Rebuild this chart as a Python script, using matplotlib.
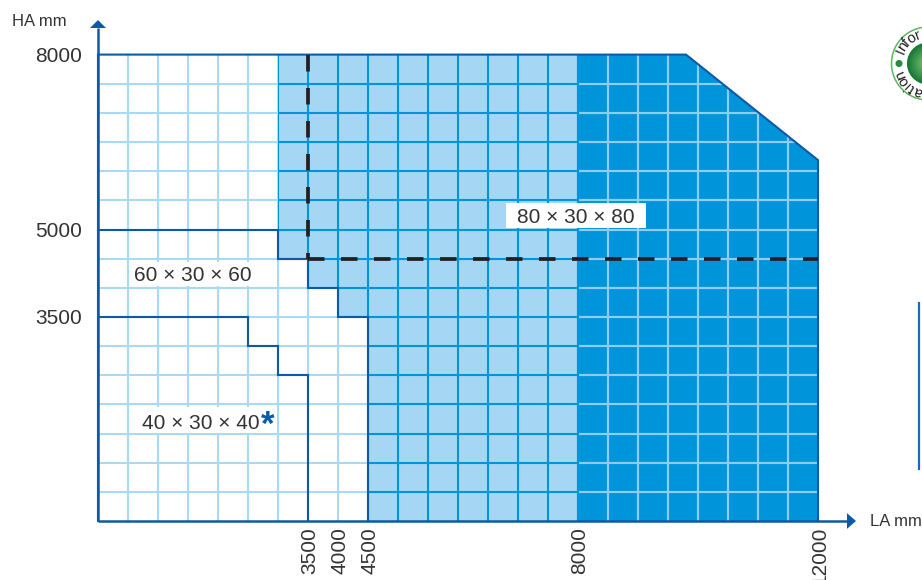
import matplotlib
matplotlib.use("Agg")
import matplotlib.pyplot as plt
from matplotlib.patches import Polygon, Rectangle
import numpy as np

plt.rcParams['font.family'] = ['Liberation Sans', 'DejaVu Sans']

# Data: zones in mm (LA, HA)
zone_80_light_x = [3000, 8000, 8000, 4500, 4500, 4000, 4000, 3500, 3500, 3000]
zone_80_light_y = [8000, 8000, 0, 0, 3500, 3500, 4000, 4000, 4500, 4500]
zone_80_dark_x = [8000, 9800, 12000, 12000, 8000]
zone_80_dark_y = [8000, 8000, 6190, 0, 0]

border_60_x = [0, 3000, 3000, 3500, 3500, 4000, 4000, 4500, 4500]
border_60_y = [5000, 5000, 4500, 4500, 4000, 4000, 3500, 3500, 0]
border_40_x = [0, 2500, 2500, 3000, 3000, 3500, 3500]
border_40_y = [3500, 3500, 3000, 3000, 2500, 2500, 0]
outline_x = [0, 0, 9800, 12000, 12000]
outline_y = [0, 8000, 8000, 6190, 0]

grid_x = np.arange(500, 12000, 500)
grid_y = np.arange(500, 8000, 500)
ha_ticks = [3500, 5000, 8000]
la_ticks = [3500, 4000, 4500, 8000, 12000]

labels = ['60 × 30 × 60', '80 × 30 × 80', '40 × 30 × 40']
label_x = [1583, 7967, 1717]
label_y = [4205, 5200, 1680]
box_x = [(530, 2980), (6800, 9133), (530, 2980)]
box_y = [(4030, 4450), (5026, 5455), (1510, 1955)]

badge_letters = ['I', 'n', 'f', 'o', 'r', 'a', 't', 'i', 'o', 'n']
badge_angles = [157, 146, 135, 123, 110, 250, 237, 226, 215, 203]

# Colors
DARK = '#0a5aa8'
MID = '#0095da'
LIGHT = '#a5d7f4'
GRID_W = '#a8daf5'
GRID_D = '#8fcdf0'
INK = '#333333'

# Scale: 0.06 px per mm on LA, 0.0583 px per mm on HA
fig = plt.figure(figsize=(9.22, 5.8), dpi=100)
ax = fig.add_axes([0, 0, 1, 1])
ax.set_xlim(-98 / 0.06, (922 - 98) / 0.06)
ax.set_ylim((521 - 580) / 0.0583, 521 / 0.0583)
ax.axis('off')

light_poly = Polygon(list(zip(zone_80_light_x, zone_80_light_y)), fc=LIGHT, ec='none', zorder=1)
dark_poly = Polygon(list(zip(zone_80_dark_x, zone_80_dark_y)), fc=MID, ec='none', zorder=1)
ax.add_patch(light_poly)
ax.add_patch(dark_poly)

# Base grid in the white part
for gx in grid_x:
    ax.plot([gx, gx], [0, 8000], color=GRID_W, lw=1.5, zorder=2, solid_capstyle='butt')
for gy in grid_y:
    ax.plot([0, 12000], [gy, gy], color=GRID_W, lw=1.5, zorder=2, solid_capstyle='butt')

# Grid over the light zone is brighter, over the dark zone it is pale
def clipped_grid(poly, color, z):
    for gx in grid_x:
        line, = ax.plot([gx, gx], [0, 8000], color=color, lw=1.5, zorder=z, solid_capstyle='butt')
        line.set_clip_path(poly)
    for gy in grid_y:
        line, = ax.plot([0, 12000], [gy, gy], color=color, lw=1.5, zorder=z, solid_capstyle='butt')
        line.set_clip_path(poly)

# white mask so the base grid does not show beyond the chamfer
ax.add_patch(Polygon([(9800, 8000), (12000, 8000), (12000, 6190)], fc='white', ec='none', zorder=2.5))
clipped_grid(light_poly, MID, 3)
clipped_grid(dark_poly, GRID_D, 3)
# cover the grid seam between the two blue zones
ax.plot([8000, 8000], [0, 8000], color=MID, lw=1.5, zorder=3.2, solid_capstyle='butt')

# Zone borders
ax.plot(border_60_x, border_60_y, color=DARK, lw=1.5, zorder=4, solid_joinstyle='miter')
ax.plot(border_40_x, border_40_y, color=DARK, lw=1.5, zorder=4, solid_joinstyle='miter')
ax.plot(outline_x, outline_y, color=DARK, lw=1.5, zorder=4, solid_joinstyle='miter')

# Dashed limit
ax.plot([3500, 3500], [8000, 4500], color='#231f20', lw=2.7, zorder=5,
        linestyle=(0, (4.4, 4.4)), dash_capstyle='butt')
ax.plot([3500, 12000], [4500, 4500], color='#231f20', lw=2.7, zorder=5,
        linestyle=(0, (4.4, 4.4)), dash_capstyle='butt')

# Axes arrows
ax.plot([0, 12483], [0, 0], color=DARK, lw=1.8, zorder=4, solid_capstyle='butt')
ax.plot([0, 0], [0, 8456], color=DARK, lw=1.8, zorder=4, solid_capstyle='butt')
ax.add_patch(Polygon([(12483, 135), (12633, 0), (12483, -135)], fc=DARK, ec='none', zorder=4))
ax.add_patch(Polygon([(-133, 8456), (133, 8456), (0, 8593)], fc=DARK, ec='none', zorder=4))

# Size labels
for (bx, by) in zip(box_x, box_y):
    ax.add_patch(Rectangle((bx[0], by[0]), bx[1] - bx[0], by[1] - by[0], fc='white', ec='none', zorder=4.5))
for t, lx, ly in zip(labels, label_x, label_y):
    ax.text(lx, ly, t, fontsize=15, color=INK, ha='center', va='center', zorder=6)
ax.text(2720, 1640, '*', fontsize=25, color=DARK, weight='bold', ha='left', va='center', zorder=6)

# Tick labels
for v in ha_ticks:
    ax.text(-270, v - 35, str(v), fontsize=15, color=INK, ha='right', va='center', zorder=6)
for v in la_ticks:
    ax.text(v + 30, -105, str(v), fontsize=15, color=INK, ha='center', va='top', rotation=90, zorder=6)
ax.text(-1433, 8576, 'HA mm', fontsize=12, color=INK, ha='left', va='center')
ax.text(12867, 0, 'LA mm', fontsize=12, color=INK, ha='left', va='center')

# Vertical rule cut by the right edge
ax.plot([13683, 13683], [(521 - 303) / 0.0583, (521 - 469) / 0.0583], color='#1a6bb5', lw=1.6)

# Round badge, cut by the right edge (px centre 928, 63.5)
cx = (928 - 98) / 0.06
cy = (521 - 63.5) / 0.0583
px_x = 1 / 0.06
px_y = 1 / 0.0583
t = np.linspace(0, 2 * np.pi, 200)
ax.plot(cx + 36.5 * px_x * np.cos(t), cy + 36.5 * px_y * np.sin(t), color='#5cb85c', lw=1.1, zorder=7)
# sphere shading as rings
for r in np.linspace(21, 1, 30):
    f = r / 21
    c = (0.55 - 0.47 * f, 0.80 - 0.33 * f, 0.50 - 0.30 * f)
    ax.fill(cx + r * px_x * np.cos(t), cy + r * px_y * np.sin(t), color=c, lw=0, zorder=7)
ax.fill(cx - 29 * px_x + 3.5 * px_x * np.cos(t), cy + 3.5 * px_y * np.sin(t), color='#2a8a3e', lw=0, zorder=8)
for ch, a in zip(badge_letters, badge_angles):
    rad = np.deg2rad(a)
    ax.text(cx + 30 * px_x * np.cos(rad), cy + 30 * px_y * np.sin(rad), ch, fontsize=10.5,
            color='#222222', rotation=a - 90, rotation_mode='anchor', ha='center', va='center', zorder=8)

fig.savefig('out.png', dpi=100)
